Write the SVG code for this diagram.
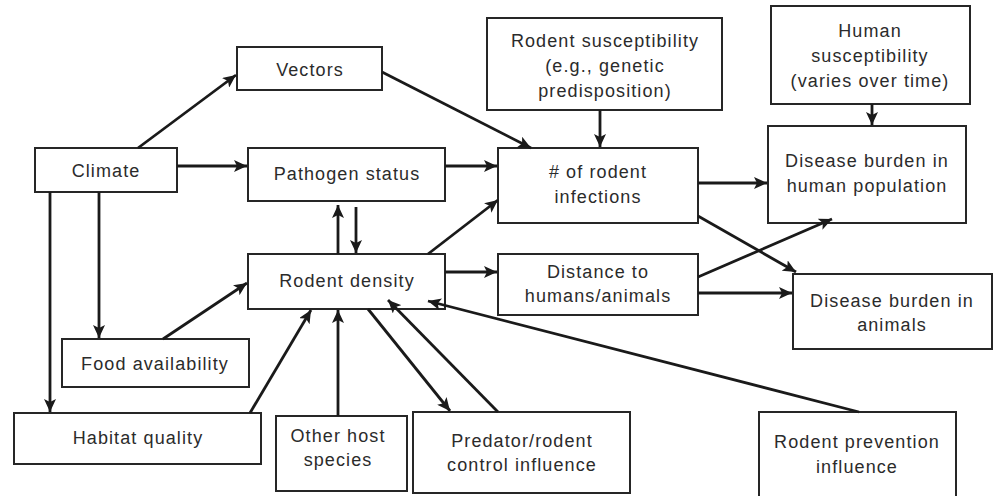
<svg xmlns="http://www.w3.org/2000/svg" width="996" height="496" viewBox="0 0 996 496">
<defs>
<style>
.box{fill:#fff;stroke:#262626;stroke-width:2}
.t{font-family:"Liberation Sans",Arial,sans-serif;font-size:18px;letter-spacing:1.1px;fill:#2b2b2b;text-anchor:middle}
.c{stroke:#1a1a1a;stroke-width:2.8;fill:none;marker-end:url(#ah)}
</style>
<marker id="ah" markerUnits="userSpaceOnUse" markerWidth="14" markerHeight="12" refX="13" refY="6" orient="auto">
<path d="M0,0 L13,6 L0,12 L3,6 Z" fill="#1a1a1a"/>
</marker>
</defs>
<rect width="996" height="496" fill="#fff"/>
<g id="vectors"><rect class="box" x="237" y="47" width="145" height="43"/><text class="t" x="310" y="76">Vectors</text></g>
<g id="climate"><rect class="box" x="35" y="148" width="142" height="44"/><text class="t" x="106" y="177">Climate</text></g>
<g id="pathogen"><rect class="box" x="248" y="148" width="197" height="53"/><text class="t" x="347" y="180">Pathogen status</text></g>
<g id="rodent-susceptibility"><rect class="box" x="487" y="18" width="235" height="92"/><text class="t" x="605" y="47">Rodent susceptibility</text><text class="t" x="605" y="72">(e.g., genetic</text><text class="t" x="605" y="97">predisposition)</text></g>
<g id="human-susceptibility"><rect class="box" x="771" y="6" width="199" height="98"/><text class="t" x="870" y="37">Human</text><text class="t" x="870" y="62">susceptibility</text><text class="t" x="870" y="87">(varies over time)</text></g>
<g id="rodent-infections"><rect class="box" x="498" y="148" width="200" height="75"/><text class="t" x="598" y="178"># of rodent</text><text class="t" x="598" y="203">infections</text></g>
<g id="disease-human"><rect class="box" x="768" y="126" width="198" height="97"/><text class="t" x="867" y="167">Disease burden in</text><text class="t" x="867" y="192">human population</text></g>
<g id="rodent-density"><rect class="box" x="248" y="254" width="197" height="55"/><text class="t" x="347" y="287">Rodent density</text></g>
<g id="distance"><rect class="box" x="498" y="254" width="200" height="61"/><text class="t" x="598" y="278">Distance to</text><text class="t" x="598" y="302">humans/animals</text></g>
<g id="disease-animals"><rect class="box" x="793" y="274" width="199" height="75"/><text class="t" x="892" y="307">Disease burden in</text><text class="t" x="892" y="331">animals</text></g>
<g id="food"><rect class="box" x="62" y="339" width="187" height="48"/><text class="t" x="155" y="370">Food availability</text></g>
<g id="habitat"><rect class="box" x="14" y="413" width="247" height="51"/><text class="t" x="138" y="444">Habitat quality</text></g>
<g id="other-host"><rect class="box" x="276" y="416" width="131" height="75"/><text class="t" x="338" y="442">Other host</text><text class="t" x="338" y="466">species</text></g>
<g id="predator"><rect class="box" x="413" y="412" width="217" height="81"/><text class="t" x="522" y="447">Predator/rodent</text><text class="t" x="522" y="471">control influence</text></g>
<g id="prevention"><rect class="box" x="759" y="412" width="197" height="90"/><text class="t" x="857" y="448">Rodent prevention</text><text class="t" x="857" y="473">influence</text></g>
<g id="connectors">
<line class="c" x1="138" y1="148" x2="236" y2="75"/>
<line class="c" x1="382" y1="72" x2="531" y2="148"/>
<line class="c" x1="177" y1="166" x2="247" y2="166"/>
<line class="c" x1="445" y1="166" x2="497" y2="166"/>
<line class="c" x1="600" y1="110" x2="600" y2="147"/>
<line class="c" x1="872" y1="104" x2="872" y2="125"/>
<line class="c" x1="698" y1="183" x2="767" y2="183"/>
<line class="c" x1="698" y1="216" x2="796" y2="272"/>
<line class="c" x1="698" y1="277" x2="832" y2="219"/>
<line class="c" x1="698" y1="293" x2="792" y2="293"/>
<line class="c" x1="445" y1="272" x2="497" y2="272"/>
<line class="c" x1="428" y1="254" x2="498" y2="200"/>
<line class="c" x1="338" y1="254" x2="338" y2="205"/>
<line class="c" x1="356" y1="207" x2="356" y2="253"/>
<line class="c" x1="99" y1="192" x2="99" y2="338"/>
<line class="c" x1="50" y1="192" x2="50" y2="412"/>
<line class="c" x1="163" y1="339" x2="247" y2="283"/>
<line class="c" x1="250" y1="413" x2="311" y2="310"/>
<line class="c" x1="338" y1="416" x2="338" y2="310"/>
<line class="c" x1="368" y1="309" x2="450" y2="411"/>
<line class="c" x1="498" y1="412" x2="388" y2="300"/>
<line class="c" x1="859" y1="412" x2="428" y2="301"/>
</g>
</svg>
